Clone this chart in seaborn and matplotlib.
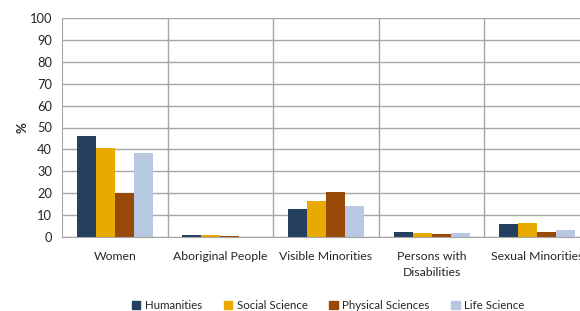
import matplotlib
matplotlib.use("Agg")
import matplotlib.pyplot as plt
import numpy as np
import pandas as pd
import seaborn as sns

categories = ["Women", "Aboriginal People", "Visible Minorities",
              "Persons with\nDisabilities", "Sexual Minorities"]
series = ["Humanities", "Social Science", "Physical Sciences", "Life Science"]
humanities = [46, 0.8, 13, 2.5, 6]
social_science = [40.5, 0.8, 16.5, 2, 6.3]
physical_sciences = [20, 0.3, 20.5, 1.5, 2.5]
life_science = [38.5, 0.1, 14, 1.7, 3]
colors = ["#243F60", "#E8A900", "#984807", "#B9C8E1"]

# long table for seaborn
rows = []
for name, vals in zip(series, [humanities, social_science, physical_sciences, life_science]):
    for cat, v in zip(categories, vals):
        rows.append({"category": cat, "series": name, "value": v})
df = pd.DataFrame(rows)

sns.set_style("white")
plt.rcParams["font.family"] = ["Lato", "DejaVu Sans"]

fig = plt.figure(figsize=(5.8, 3.11), dpi=100)
ax = fig.add_axes([62 / 580, 74 / 311, 528 / 580, 219 / 311])

sns.barplot(data=df, x="category", y="value", hue="series", order=categories,
            hue_order=series, palette=colors, width=0.72, gap=0,
            saturation=1, linewidth=0, ax=ax)

ax.set_ylim(0, 100)
ax.set_xlim(-0.5, len(categories) - 0.5)
ax.set_yticks(np.arange(0, 101, 10))
ax.grid(axis="y", color="#A6A6A6", linewidth=1)
ax.set_axisbelow(True)

# category boundaries: vertical lines with ticks below the axis
bounds = np.arange(0.5, len(categories) - 0.5, 1)
ax.set_xticks(bounds, minor=True)
ax.grid(axis="x", which="minor", color="#A6A6A6", linewidth=1)
ax.tick_params(axis="x", which="minor", length=6, color="#A6A6A6", width=1)
ax.tick_params(axis="x", which="major", length=0, pad=10, labelsize=8.8)
ax.tick_params(axis="y", length=5, color="#A6A6A6", width=1, labelsize=9.3, pad=2)
for lbl in ax.get_xticklabels():
    lbl.set_linespacing(1.55)
    lbl.set_verticalalignment("top")

for s in ["top", "right"]:
    ax.spines[s].set_visible(False)
ax.spines["left"].set_color("#A6A6A6")
ax.spines["bottom"].set_color("#A6A6A6")

ax.set_xlabel("")
ax.set_ylabel("%", fontweight="bold", fontsize=9.5, labelpad=1)

ax.legend_.remove()
handles = [plt.Rectangle((0, 0), 1, 1, color=c) for c in colors]
fig.legend(handles, series, loc="lower center", bbox_to_anchor=(0.566, -0.032),
           ncol=4, frameon=False, fontsize=8.3, handlelength=0.7, handleheight=0.7,
           handletextpad=0.4, columnspacing=1.9)

fig.savefig("out.png", dpi=100)
